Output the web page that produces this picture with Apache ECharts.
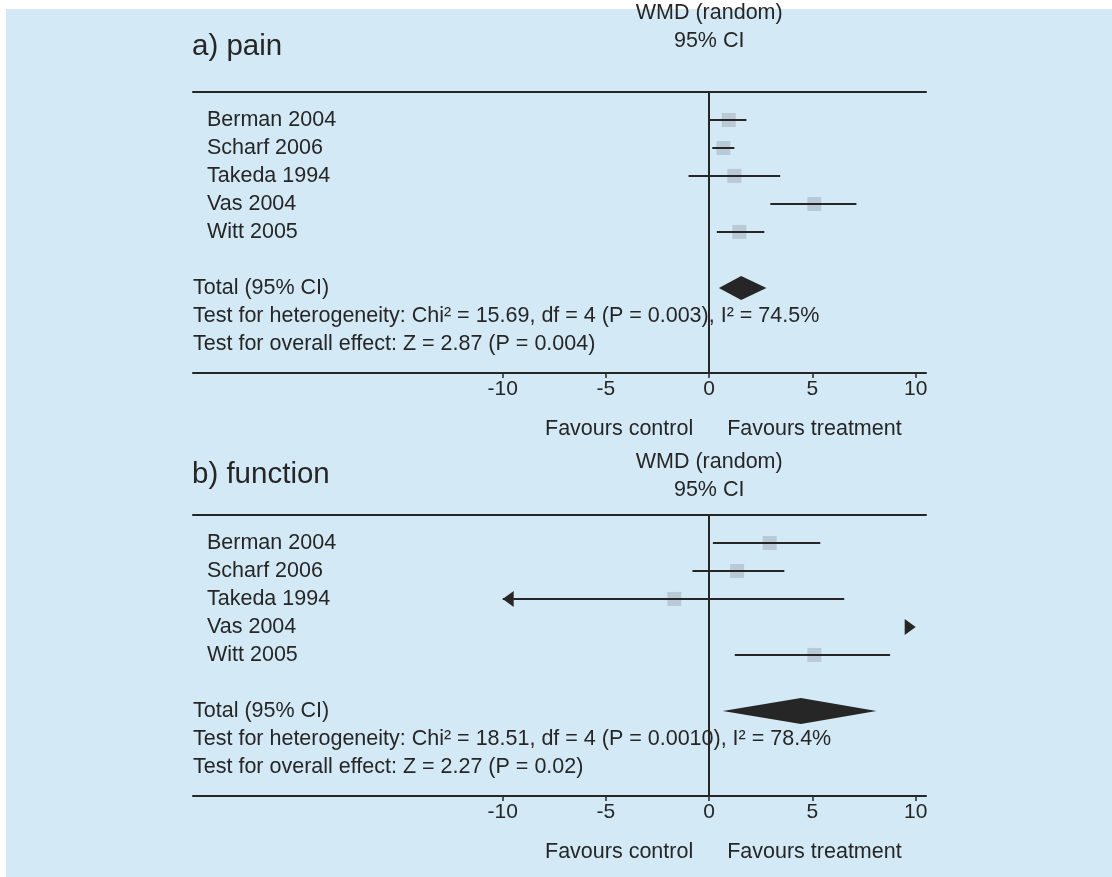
<!DOCTYPE html>
<html><head><meta charset="utf-8">
<script src="https://cdn.jsdelivr.net/npm/echarts@6/dist/echarts.min.js"></script>
<style>html,body{margin:0;padding:0;background:#ffffff}#c{width:1112px;height:877px}</style>
</head><body><div id="c"></div>
<script>
// ---------- data ----------
const studies = ['Berman 2004', 'Scharf 2006', 'Takeda 1994', 'Vas 2004', 'Witt 2005'];

const painMean  = [0.95, 0.69, 1.22, 5.09, 1.46];
const painLower = [0.02, 0.15, -1.00, 2.96, 0.37];
const painUpper = [1.80, 1.22, 3.44, 7.13, 2.67];
const painTotal = [0.47, 1.55, 2.77];          // lower, mean, upper

const funcMean  = [2.93, 1.35, -1.69, 13.50, 5.09];
const funcLower = [0.18, -0.81, -10.40, 10.90, 1.24];
const funcUpper = [5.38, 3.64, 6.54, 16.10, 8.76];
const funcTotal = [0.66, 4.44, 8.10];

const panelTitles = ['a) pain', 'b) function'];
const painInfo = ['Total (95% CI)',
  'Test for heterogeneity: Chi\u00b2 = 15.69, df = 4 (P = 0.003), I\u00b2 = 74.5%',
  'Test for overall effect: Z = 2.87 (P = 0.004)'];
const funcInfo = ['Total (95% CI)',
  'Test for heterogeneity: Chi\u00b2 = 18.51, df = 4 (P = 0.0010), I\u00b2 = 78.4%',
  'Test for overall effect: Z = 2.27 (P = 0.02)'];
const tickValues = [-10, -5, 0, 5, 10];
const headerLines = ['WMD (random)', '95% CI'];
const favourLabels = ['Favours control', 'Favours treatment'];

// ---------- style ----------
const BG = '#d3e9f6';
const INK = '#262626';
const SQ = '#b9cad6';
const FONT = '"Liberation Sans", Arial, sans-serif';
const FS = 21.5;
const XMIN = -25, XMAX = 10.5, SCALE_LO = -10, SCALE_HI = 10;
const ROWMAX = 10.04;

const panels = [
  {mean: painMean, lo: painLower, hi: painUpper, total: painTotal, info: painInfo, top: 92,
   titleY: 47, hdrY: [13, 41], favY: 429},
  {mean: funcMean, lo: funcLower, hi: funcUpper, total: funcTotal, info: funcInfo, top: 515,
   titleY: 475, hdrY: [462, 490], favY: 852}
];

const chart = echarts.init(document.getElementById('c'), null, {renderer: 'canvas'});

const grids = [], xAxes = [], yAxes = [], series = [];
panels.forEach((p, k) => {
  grids.push({left: 193, top: p.top, width: 733, height: 281, containLabel: false});
  xAxes.push({
    gridIndex: k, type: 'value', min: XMIN, max: XMAX, position: 'bottom',
    axisLine: {show: true, onZero: false, lineStyle: {color: INK, width: 2}},
    axisTick: {show: true, customValues: tickValues, length: 5, lineStyle: {color: INK, width: 1.5}},
    axisLabel: {show: true, customValues: tickValues, color: INK, fontSize: 21, fontFamily: FONT, margin: 6},
    splitLine: {show: false}
  });
  xAxes.push({
    gridIndex: k, type: 'value', min: XMIN, max: XMAX, position: 'top',
    axisLine: {show: true, onZero: false, lineStyle: {color: INK, width: 2}},
    axisTick: {show: false}, axisLabel: {show: false}, splitLine: {show: false}
  });
  yAxes.push({gridIndex: k, type: 'value', min: 0, max: ROWMAX, inverse: true, show: false});

  // text rows (study names + summary lines)
  const textRows = studies.map((s, i) => ({row: i + 1, text: s, indent: 14}))
    .concat(p.info.map((t, i) => ({row: 7 + i, text: t, indent: 0})));
  series.push({
    type: 'custom', xAxisIndex: 2 * k, yAxisIndex: k, silent: true, z: 1,
    data: textRows.map(r => [XMIN, r.row]),
    renderItem: (params, api) => {
      const r = textRows[params.dataIndex];
      const pt = api.coord([api.value(0), api.value(1)]);
      return {type: 'text', style: {x: pt[0] + r.indent, y: pt[1], text: r.text, fill: INK,
        font: FS + 'px ' + FONT, verticalAlign: 'middle', align: 'left'}};
    }
  });

  // study squares + CI lines + arrows
  series.push({
    type: 'custom', xAxisIndex: 2 * k, yAxisIndex: k, silent: true, z: 3, clip: false,
    data: studies.map((s, i) => [i + 1, p.lo[i], p.mean[i], p.hi[i]]),
    renderItem: (params, api) => {
      const row = api.value(0), lo = api.value(1), m = api.value(2), hi = api.value(3);
      const cl = Math.max(SCALE_LO, Math.min(SCALE_HI, lo));
      const ch = Math.max(SCALE_LO, Math.min(SCALE_HI, hi));
      const a = api.coord([cl, row]), b = api.coord([ch, row]);
      const children = [];
      if (m >= SCALE_LO && m <= SCALE_HI) {
        const c = api.coord([m, row]);
        children.push({type: 'rect', shape: {x: c[0] - 7, y: c[1] - 7, width: 14, height: 14}, style: {fill: SQ}});
      }
      if (b[0] > a[0]) {
        children.push({type: 'line', shape: {x1: a[0], y1: a[1], x2: b[0], y2: b[1]}, style: {stroke: INK, lineWidth: 2}});
      }
      if (lo < SCALE_LO) {
        children.push({type: 'polygon', shape: {points: [[a[0], a[1]], [a[0] + 11, a[1] - 8], [a[0] + 11, a[1] + 8]]}, style: {fill: INK}});
      }
      if (hi > SCALE_HI) {
        children.push({type: 'polygon', shape: {points: [[b[0], b[1]], [b[0] - 11, b[1] - 8], [b[0] - 11, b[1] + 8]]}, style: {fill: INK}});
      }
      return {type: 'group', children};
    },
    markLine: {
      silent: true, symbol: ['none', 'none'], label: {show: false},
      lineStyle: {color: INK, width: 2, type: 'solid'},
      data: [{xAxis: 0}]
    }
  });

  // pooled diamond
  series.push({
    type: 'custom', xAxisIndex: 2 * k, yAxisIndex: k, silent: true, z: 4,
    data: [[7, p.total[0], p.total[1], p.total[2]]],
    renderItem: (params, api) => {
      const row = api.value(0);
      const l = api.coord([api.value(1), row]), c = api.coord([api.value(2), row]), r = api.coord([api.value(3), row]);
      const h = k === 0 ? 12 : 13;
      return {type: 'polygon', shape: {points: [[l[0], l[1]], [c[0], c[1] - h], [r[0], r[1]], [c[0], c[1] + h]]}, style: {fill: INK}};
    }
  });
});

// headers and favours labels, anchored at the 0 line
const zeroX = 193 + (0 - XMIN) / (XMAX - XMIN) * 733;
const graphics = [{type: 'rect', left: 6, top: 9, shape: {width: 1106, height: 868}, style: {fill: BG}, z: -10}];
panels.forEach((p, k) => {
  graphics.push({type: 'text', x: 192, y: p.titleY, style: {text: panelTitles[k], fill: INK, font: '29.5px ' + FONT, verticalAlign: 'middle'}});
  graphics.push({type: 'text', x: zeroX, y: p.hdrY[0], style: {text: headerLines[0], fill: INK, font: FS + 'px ' + FONT, align: 'center', verticalAlign: 'middle'}});
  graphics.push({type: 'text', x: zeroX, y: p.hdrY[1], style: {text: headerLines[1], fill: INK, font: FS + 'px ' + FONT, align: 'center', verticalAlign: 'middle'}});
  graphics.push({type: 'text', x: zeroX - 16, y: p.favY, style: {text: favourLabels[0], fill: INK, font: FS + 'px ' + FONT, align: 'right', verticalAlign: 'middle'}});
  graphics.push({type: 'text', x: zeroX + 18, y: p.favY, style: {text: favourLabels[1], fill: INK, font: FS + 'px ' + FONT, align: 'left', verticalAlign: 'middle'}});
});

chart.setOption({
  animation: false,
  backgroundColor: '#ffffff',
  grid: grids, xAxis: xAxes, yAxis: yAxes, series: series,
  graphic: graphics
});
</script>
</body></html>
